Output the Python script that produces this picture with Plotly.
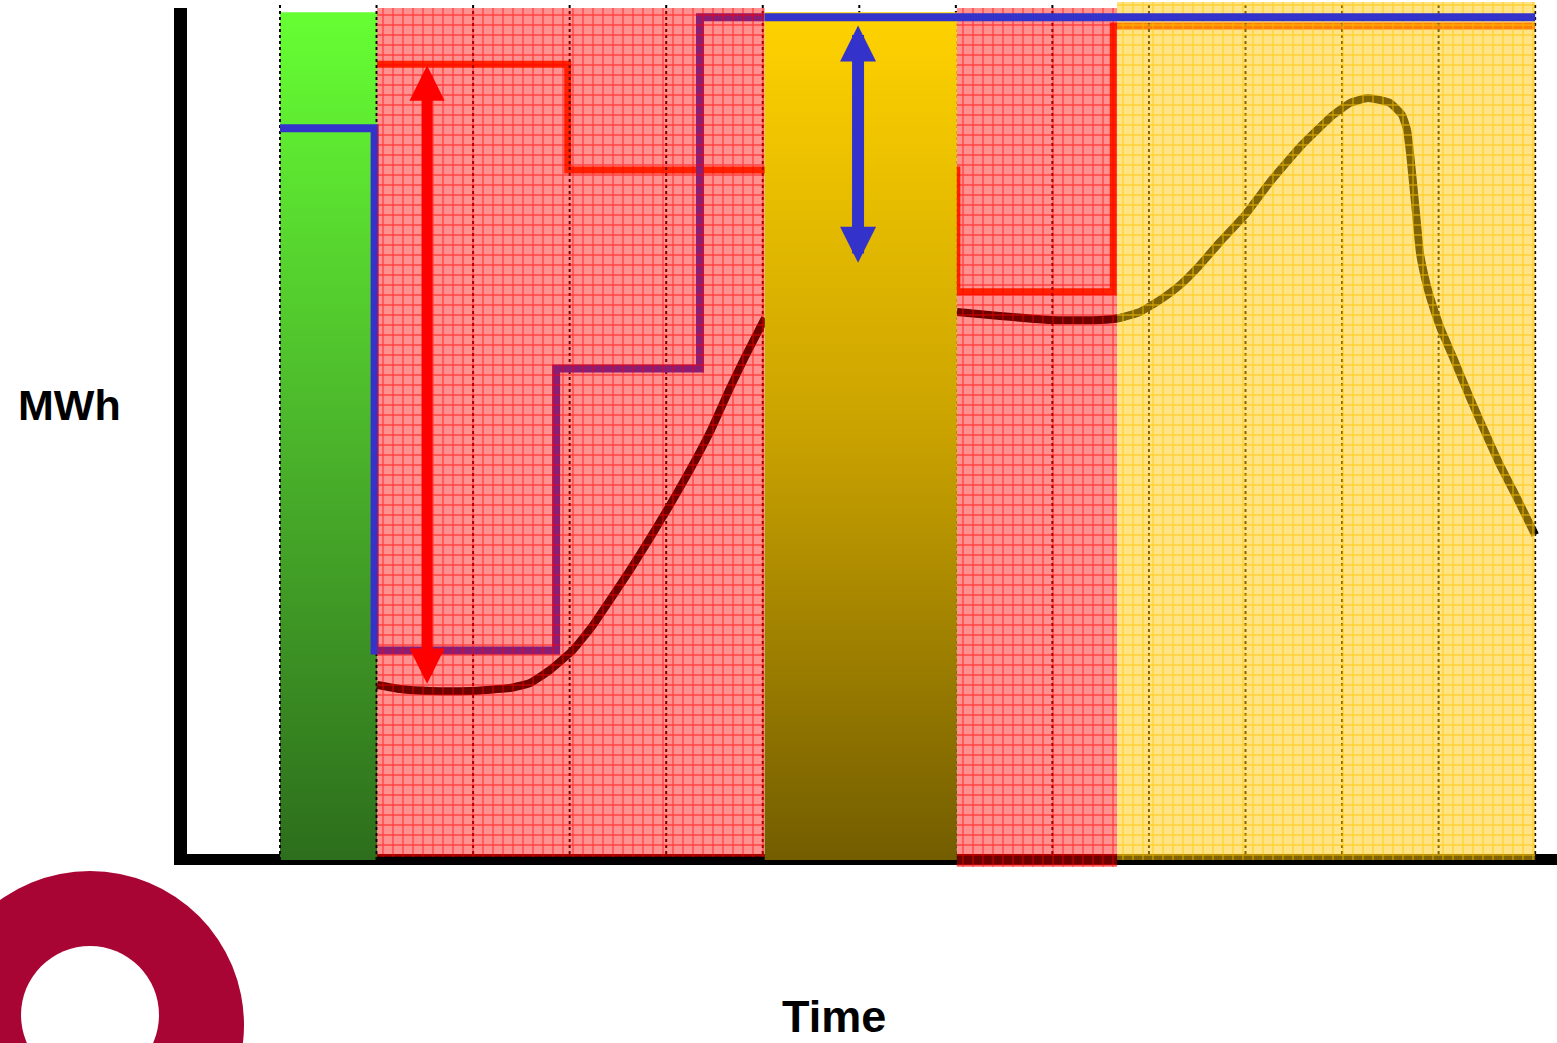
import plotly.graph_objects as go

# ---------------- data (time units, MWh units) ----------------
# period boundaries on the time axis
green_period = [0.0, 1.005]
red_period_1 = [1.005, 5.02]
gold_period = [5.02, 7.01]
red_period_2 = [7.01, 8.67]
yellow_period = [8.67, 13.0]
grid_times = list(range(0, 14))

# bar heights (MWh)
green_top = 99.5
gold_top = 99.5
overlay_top = 100.0
yellow_top = 100.7

# blue step line
blue_x = [0.0, 0.98, 0.98, 2.86, 2.86, 4.35, 4.35, 5.02, 13.0]
blue_y = [85.9, 85.9, 24.6, 24.6, 57.7, 57.7, 98.9, 98.9, 98.9]
blue_split = 7  # index where the line passes in front of the gold bar

# red step line
red_x = [0.0, 2.98, 2.98, 7.01, 7.01, 8.63, 8.63, 13.0]
red_y = [93.4, 93.4, 81.0, 81.0, 66.7, 66.7, 97.9, 97.9]

# black curve (two visible pieces)
curve1_x = [1.005, 1.243, 1.554, 1.968, 2.382, 2.589, 2.796, 3.035, 3.242, 3.418,
            3.625, 3.832, 4.039, 4.246, 4.454, 4.661, 4.816, 5.023]
curve1_y = [20.54, 20.07, 19.84, 19.84, 20.19, 20.77, 22.30, 24.65, 27.58, 30.52,
            34.04, 37.79, 41.67, 45.77, 50.23, 55.40, 59.04, 63.62]
curve2_x = [7.012, 7.457, 7.975, 8.493, 8.700, 8.907, 9.114, 9.322, 9.529, 9.736,
            9.995, 10.254, 10.565, 10.906, 11.082, 11.269, 11.497, 11.621, 11.673,
            11.704, 11.756, 11.807, 11.859, 11.911, 12.015, 12.170, 12.325, 12.481,
            12.636, 12.822, 13.0]
curve2_y = [64.32, 63.85, 63.38, 63.38, 63.62, 64.32, 65.73, 67.49, 69.84, 72.54,
            75.70, 79.58, 83.69, 87.44, 88.85, 89.44, 88.85, 87.44, 85.68,
            82.98, 77.11, 71.24, 68.31, 66.08, 62.56, 58.45, 54.23, 50.23,
            46.36, 42.25, 38.15]

# double arrows: (time, low MWh, high MWh)
red_arrow = (1.523, 20.7, 93.3)
blue_arrow = (5.987, 70.1, 98.0)

x_label = "Time"
y_label = "MWh"

# ---------------- geometry / style ----------------
W, H = 1557, 1043
L, R, T, B = 188, 0, 0, 173
X0, XU = 280.0, 96.55      # pixel of time 0, pixels per time unit
Y0, YU = 860.0, 8.52       # pixel of 0 MWh, pixels per MWh
x_range = [(L - X0) / XU, (W - R - X0) / XU]
y_range = [(Y0 - (H - B)) / YU, (Y0 - T) / YU]
PW, PH = W - L - R, H - T - B


def px(xp):
    return (xp - L) / PW


def py(yp):
    return (H - B - yp) / PH


def rect(x0, x1, y0, y1):
    return [x0, x1, x1, x0, x0], [y0, y0, y1, y1, y0]


fig = go.Figure()

# red line (under everything)
fig.add_trace(go.Scatter(x=red_x, y=red_y, mode="lines",
                         line=dict(color="#ff3800", width=7), hoverinfo="skip"))

# green gradient bar
gx, gy = rect(green_period[0], green_period[1], 0, green_top)
fig.add_trace(go.Scatter(x=gx, y=gy, mode="lines", fill="toself", line=dict(width=0),
                         fillgradient=dict(type="vertical",
                                           colorscale=[[0, "#2d6e1c"], [0.5, "#4bb52b"], [1, "#66ff33"]]),
                         hoverinfo="skip"))

# dotted time grid
for t in grid_times:
    fig.add_trace(go.Scatter(x=[t, t], y=[0, 100.35], mode="lines",
                             line=dict(color="#000000", width=2, dash="dot"), hoverinfo="skip"))

# blue line (first part) and black curve
fig.add_trace(go.Scatter(x=blue_x[:blue_split + 1], y=blue_y[:blue_split + 1], mode="lines",
                         line=dict(color="#3333cc", width=8), hoverinfo="skip"))
for cx, cy in [(curve1_x, curve1_y), (curve2_x, curve2_y)]:
    fig.add_trace(go.Scatter(x=cx, y=cy, mode="lines",
                             line=dict(color="#000000", width=8, shape="spline", smoothing=0.4),
                             hoverinfo="skip"))

# translucent hatched overlays
red_pat = dict(shape="+", size=10, solidity=0.25, bgcolor="rgba(255,0,0,0.43)",
               fgcolor="#ff0000", fgopacity=0.55)
for (a, b), bottom in [(red_period_1, 0.35), (red_period_2, -0.82)]:
    ox, oy = rect(a, b, bottom, overlay_top)
    fig.add_trace(go.Scatter(x=ox, y=oy, mode="lines", fill="toself", line=dict(width=0),
                             fillcolor="rgba(255,0,0,0.43)", fillpattern=red_pat, hoverinfo="skip"))
yx, yy = rect(yellow_period[0], yellow_period[1], 0, yellow_top)
fig.add_trace(go.Scatter(x=yx, y=yy, mode="lines", fill="toself", line=dict(width=0),
                         fillcolor="rgba(255,200,10,0.5)",
                         fillpattern=dict(shape="+", size=10, solidity=0.25, bgcolor="rgba(255,200,10,0.5)",
                                          fgcolor="#ffc400", fgopacity=0.6),
                         hoverinfo="skip"))

# gold gradient bar
ggx, ggy = rect(gold_period[0], gold_period[1], 0, gold_top)
fig.add_trace(go.Scatter(x=ggx, y=ggy, mode="lines", fill="toself", line=dict(width=0),
                         fillgradient=dict(type="vertical",
                                           colorscale=[[0, "#735d00"], [0.5, "#c9a200"], [1, "#ffd200"]]),
                         hoverinfo="skip"))

# blue line (front part)
fig.add_trace(go.Scatter(x=blue_x[blue_split:], y=blue_y[blue_split:], mode="lines",
                         line=dict(color="#3333cc", width=8), hoverinfo="skip"))

annotations = []
for (t, lo, hi), col, w, s in [(red_arrow, "#ff0000", 11, 0.64), (blue_arrow, "#3333cc", 12, 0.6)]:
    annotations.append(dict(x=t, y=lo, ax=t, ay=hi, xref="x", yref="y", axref="x", ayref="y",
                            text="", showarrow=True, arrowhead=2, startarrowhead=2, arrowside="end+start",
                            arrowwidth=w, arrowsize=s, startarrowsize=s, arrowcolor=col,
                            standoff=0, startstandoff=0, borderpad=0, font=dict(size=1)))

annotations.append(dict(x=px(70), y=py(405), xref="paper", yref="paper", text="<b>" + y_label + "</b>",
                        showarrow=False, xanchor="center", yanchor="middle",
                        font=dict(family="Liberation Sans, Arial", size=43, color="#000000")))
annotations.append(dict(x=px(834), y=py(1016), xref="paper", yref="paper", text="<b>" + x_label + "</b>",
                        showarrow=False, xanchor="center", yanchor="middle",
                        font=dict(family="Liberation Sans, Arial", size=45, color="#000000")))

shapes = [
    # axes
    dict(type="line", xref="paper", yref="paper", x0=px(180.5), x1=px(180.5), y0=py(865), y1=py(8),
         line=dict(color="#000000", width=13), layer="below"),
    dict(type="line", xref="paper", yref="paper", x0=px(174), x1=px(1557), y0=py(859.5), y1=py(859.5),
         line=dict(color="#000000", width=11), layer="below"),
    # logo ring
    dict(type="circle", xref="paper", yref="paper", x0=px(90 - 154), x1=px(90 + 154),
         y0=py(1025 + 154), y1=py(1025 - 154), fillcolor="#a80534", line=dict(width=0), layer="above"),
    dict(type="circle", xref="paper", yref="paper", x0=px(90 - 69), x1=px(90 + 69),
         y0=py(1015 + 69), y1=py(1015 - 69), fillcolor="#ffffff", line=dict(width=0), layer="above"),
]

fig.update_layout(
    width=W, height=H, margin=dict(l=L, r=R, t=T, b=B, pad=0),
    paper_bgcolor="#ffffff", plot_bgcolor="rgba(0,0,0,0)", showlegend=False,
    xaxis=dict(range=x_range, visible=False, fixedrange=True),
    yaxis=dict(range=y_range, visible=False, fixedrange=True),
    annotations=annotations, shapes=shapes,
)

fig.write_html("out.html", config={"displayModeBar": False},
               post_script="document.body.style.margin='0';document.body.style.overflow='hidden';")
